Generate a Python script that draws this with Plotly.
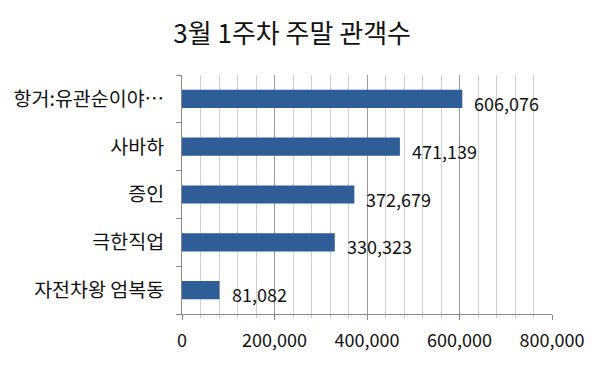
import plotly.graph_objects as go

categories = ["항거:유관순이야…", "사바하", "증인", "극한직업", "자전차왕 엄복동"]
values = [606076, 471139, 372679, 330323, 81082]
tick_vals = [0, 200000, 400000, 600000, 800000]
tick_text = ["0", "200,000", "400,000", "600,000", "800,000"]
title_text = "3월 1주차 주말 관객수"

FONT = "Noto Sans CJK KR"

fig = go.Figure(go.Bar(
    x=values,
    y=categories,
    orientation="h",
    marker=dict(color="#2F5D98", line=dict(width=0)),
    width=0.38,
    hoverinfo="x+y",
))

for cat, val in zip(categories, values):
    fig.add_annotation(
        x=val, y=cat, text=f"{val:,}", showarrow=False,
        xanchor="left", yanchor="middle", xshift=10, yshift=-4,
        font=dict(family=FONT, size=18, color="#111111"),
    )

fig.update_layout(
    width=592, height=368,
    margin=dict(l=174, r=48, t=67, b=62, autoexpand=False),
    paper_bgcolor="white", plot_bgcolor="white",
    showlegend=False,
    title=dict(text=title_text, x=0.48, xanchor="center", y=0.93, yanchor="middle",
               font=dict(family=FONT, size=26, color="#111111")),
    xaxis=dict(
        range=[0, 800000], tickvals=tick_vals, ticktext=tick_text,
        showgrid=True, gridcolor="#9a9a9a", gridwidth=1,
        minor=dict(dtick=40000, showgrid=True, gridcolor="#cfcfcf", gridwidth=1,
                   ticks="outside", ticklen=3, tickcolor="#c8c8c8"),
        ticks="outside", ticklen=5, tickcolor="#888888",
        showline=True, linecolor="#888888", linewidth=1,
        zeroline=False, automargin=False,
        tickfont=dict(family=FONT, size=18, color="#111111"),
        ticklabelstandoff=5,
    ),
    yaxis=dict(
        categoryorder="array", categoryarray=categories[::-1],
        tickson="boundaries", ticks="outside", ticklen=5, tickcolor="#888888",
        showline=True, linecolor="#888888", linewidth=1,
        showgrid=False, automargin=False,
        tickfont=dict(family=FONT, size=19.5, color="#111111"),
        ticklabelstandoff=13,
    ),
)

fig.write_html("out.html")
